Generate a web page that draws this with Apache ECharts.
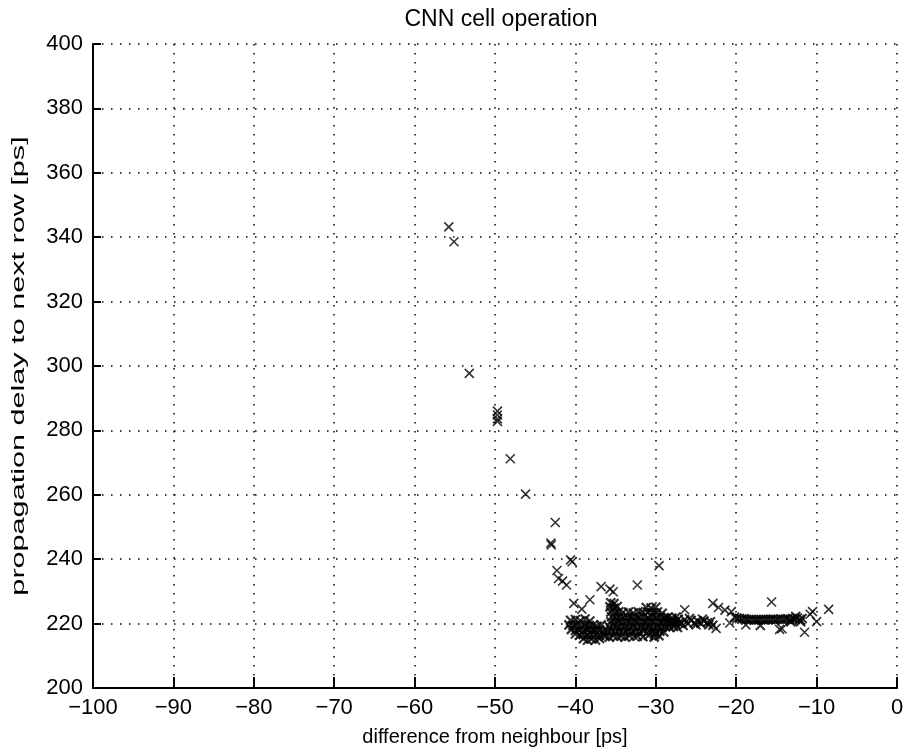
<!DOCTYPE html>
<html>
<head>
<meta charset="utf-8">
<script src="https://cdn.jsdelivr.net/npm/echarts@6/dist/echarts.min.js"></script>
<style>html,body{margin:0;padding:0;background:#fff}#c{width:906px;height:750px}</style>
</head>
<body>
<div id="c"></div>
<script>
var titleText = 'CNN cell operation';
var xName = 'difference from neighbour [ps]';
var yName = 'propagation delay to next row [ps]';
var xTicks = [-100, -90, -80, -70, -60, -50, -40, -30, -20, -10, 0];
var yTicks = [200, 220, 240, 260, 280, 300, 320, 340, 360, 380, 400];

// isolated points
var outliers = [
  [-55.75,343.2],[-55.1,338.6],[-53.2,297.7],
  [-49.7,286.0],[-49.7,284.8],[-49.7,283.6],[-49.7,282.8],
  [-48.1,271.2],[-46.2,260.2],[-42.5,251.4],[-43.05,245.0],[-43.0,244.4],
  [-40.6,239.8],[-40.4,239.2],[-42.3,236.5],[-42.1,234.0],[-41.6,233.2],[-41.1,232.0],
  [-36.8,231.5],[-35.7,230.7],[-35.3,229.9],[-32.3,232.0],[-29.6,238.0],
  [-38.2,227.4],[-40.2,226.3],[-39.2,224.5],[-26.4,224.3],[-22.9,226.3],
  [-22.5,218.5],[-32.7,216.0],[-30.1,216.5],[-20.6,223.7],[-20.8,220.2],
  [-18.8,219.6],[-15.6,226.7],[-11.5,217.3],[-14.6,218.2],[-14.3,218.4],
  [-10.5,223.7],[-10.8,222.9],[-8.5,224.4],[-10.0,220.6],[-22.2,225.0],[-21.4,224.2]
];

// dense cluster, left part
var clusterLeft = [
  [-39.0,215.3],[-38.5,214.8],[-38.0,215.2],[-37.5,214.9],[-37.0,215.4],
  [-40.0,216.8],[-39.5,216.4],[-39.0,216.6],[-38.5,216.3],[-38.0,216.7],[-37.5,216.5],[-37.0,216.4],[-36.5,216.6],
  [-40.5,218.2],[-40.0,217.9],[-39.5,218.1],[-39.0,217.8],[-38.5,218.2],[-38.0,218.0],[-37.5,217.9],[-37.0,218.1],[-36.5,217.8],
  [-40.8,219.6],[-40.3,219.4],[-39.8,219.7],[-39.3,219.3],[-38.8,219.6],[-38.3,219.4],[-37.8,219.5],[-37.3,219.2],[-36.8,219.6],
  [-40.6,221.0],[-40.0,221.3],[-39.4,220.9],[-38.8,221.4],[-38.2,220.8]
];

// dense cluster, tall right part
var clusterMid = [
  [-36.3,216.0],[-35.8,215.8],[-35.3,216.2],[-34.8,215.9],[-34.3,216.1],[-33.8,215.8],[-33.3,216.2],
  [-36.0,217.5],[-35.5,217.7],[-35.0,217.3],[-34.5,217.6],[-34.0,217.4],[-33.5,217.7],[-33.0,217.3],
  [-35.8,219.0],[-35.3,219.2],[-34.8,218.9],[-34.3,219.1],[-33.8,219.0],[-33.3,218.8],[-32.8,219.2],[-32.3,218.9],
  [-31.8,219.1],[-31.3,218.8],[-30.8,219.2],[-30.3,218.9],[-29.8,219.1],[-29.3,218.8],[-28.8,219.0],[-28.3,218.9],
  [-27.8,219.1],[-27.3,218.8],
  [-32.5,217.5],[-32.0,217.3],[-31.5,217.7],[-31.0,217.4],[-30.5,217.6],[-30.0,217.2],[-29.5,217.6],[-29.0,217.4],
  [-32.3,216.1],[-31.6,215.9],[-30.9,216.3],[-30.2,215.8],[-29.6,216.2],
  [-35.6,220.6],[-35.1,220.3],[-34.6,220.7],[-34.1,220.4],[-33.6,220.6],[-33.1,220.3],[-32.6,220.7],[-32.1,220.4],
  [-31.6,220.6],[-31.1,220.3],[-30.6,220.7],[-30.1,220.4],[-29.6,220.6],[-29.1,220.3],[-28.6,220.6],[-28.1,220.4],
  [-27.6,220.6],[-27.1,220.3],
  [-35.5,222.1],[-35.0,221.8],[-34.5,222.2],[-34.0,221.9],[-33.5,222.1],[-33.0,221.8],[-32.5,222.2],[-32.0,221.9],
  [-31.5,222.1],[-31.0,221.8],[-30.5,222.2],[-30.0,221.9],[-29.5,222.1],[-29.0,221.8],[-28.5,222.0],[-28.0,221.7],
  [-27.5,222.0],
  [-35.6,223.6],[-35.1,223.3],[-34.6,223.7],[-34.1,223.4],[-33.4,223.6],[-32.8,223.3],[-32.2,223.7],[-31.6,223.4],
  [-31.0,223.6],[-30.4,223.3],[-29.8,223.6],[-29.2,223.2],
  [-35.7,225.2],[-35.2,224.8],[-34.8,225.3],[-31.2,225.0],[-30.6,224.8],[-30.0,225.1],
  [-35.6,226.5],[-35.2,226.2]
];

// thin band to the right
var band = [
  [-28.8,221.6],[-28.4,219.6],[-28.0,221.0],[-27.6,219.8],[-27.2,221.4],[-26.8,220.2],
  [-26.4,221.2],[-26.0,220.0],[-25.6,221.0],[-25.2,220.2],[-24.8,220.8],[-24.4,220.1],
  [-24.0,220.8],[-23.6,220.3],[-23.2,220.6],[-22.9,219.5],
  [-26.6,219.4],[-25.8,221.6],[-25.0,219.6],[-24.2,221.4],[-23.4,219.6],
  [-20.2,222.0],[-19.9,221.7],[-19.6,221.6],[-19.3,221.4],[-19.0,221.5],[-18.7,221.3],
  [-18.4,221.2],[-18.1,221.3],[-17.8,221.1],[-17.5,221.2],[-17.2,221.1],[-16.9,221.3],
  [-16.6,221.2],[-16.3,221.3],[-16.0,221.2],[-15.7,221.3],[-15.4,221.4],[-15.1,221.2],
  [-14.8,221.3],[-14.5,221.4],[-14.2,221.3],[-13.9,221.4],[-13.6,221.5],[-13.3,221.2],
  [-13.0,221.6],[-12.7,221.3],[-12.4,221.7],[-12.1,221.3],[-11.8,221.6],
  [-13.2,220.6],[-12.6,222.2],[-12.0,220.6],[-17.0,219.4]
];

var chart = echarts.init(document.getElementById('c'));
var fontFam = '"Liberation Sans", Arial, sans-serif';
var crossSym = 'path://M0,0L10,10M10,0L0,10';
function fmt(v){ return String(v).replace('-', '\u2212'); }
function mk(d, w){
  return {type:'scatter', data:d, symbol:crossSym, symbolSize:9,
          itemStyle:{color: 'rgba(0,0,0,0)', borderColor: '#000', borderWidth: w},
          silent:true, animation:false, emphasis:{disabled:true}};
}
chart.setOption({
  backgroundColor: '#fff',
  animation: false,
  title: {text: titleText, left: 496, top: 3, textAlign: 'center',
          textStyle: {fontFamily: fontFam, fontSize: 23, fontWeight: 'normal', color: '#000'}},
  grid: {left: 93, top: 44, right: 9, bottom: 62, containLabel: false, outerBoundsMode: 'none'},
  graphic: [{
    type: 'text', x: 19, y: 366, rotation: Math.PI / 2, scaleX: 1.7, silent: true,
    style: {text: yName, font: '18px "Liberation Sans", Arial, sans-serif', fill: '#000',
            textAlign: 'center', textVerticalAlign: 'middle'}
  }],
  xAxis: {
    type: 'value', min: xTicks[0], max: xTicks[xTicks.length-1], interval: 10,
    name: xName, nameLocation: 'middle', nameGap: 39,
    nameTextStyle: {fontFamily: fontFam, fontSize: 20, color: '#000'},
    axisLine: {show: true, onZero: false, lineStyle: {color: '#000', width: 2}},
    axisTick: {show: true, inside: true, length: 11, lineStyle: {color: '#000', width: 2}},
    axisLabel: {fontFamily: fontFam, fontSize: 22, color: '#000', margin: 9, formatter: fmt},
    splitLine: {show: true, lineStyle: {color: '#000', width: 1.5, type: [1.5, 7.5]}}
  },
  yAxis: {
    type: 'value', min: yTicks[0], max: yTicks[yTicks.length-1], interval: 20,
    axisLine: {show: true, onZero: false, lineStyle: {color: '#000', width: 2}},
    axisTick: {show: true, inside: true, length: 8, lineStyle: {color: '#000', width: 2}},
    axisLabel: {fontFamily: fontFam, fontSize: 22, color: '#000', margin: 10, formatter: fmt},
    splitLine: {show: true, lineStyle: {color: '#000', width: 1.5, type: [1.5, 7.5]}}
  },
  series: [mk(outliers, 1.6), mk(clusterLeft, 2.2), mk(clusterMid, 2.2), mk(band, 2)]
});
</script>
</body>
</html>
